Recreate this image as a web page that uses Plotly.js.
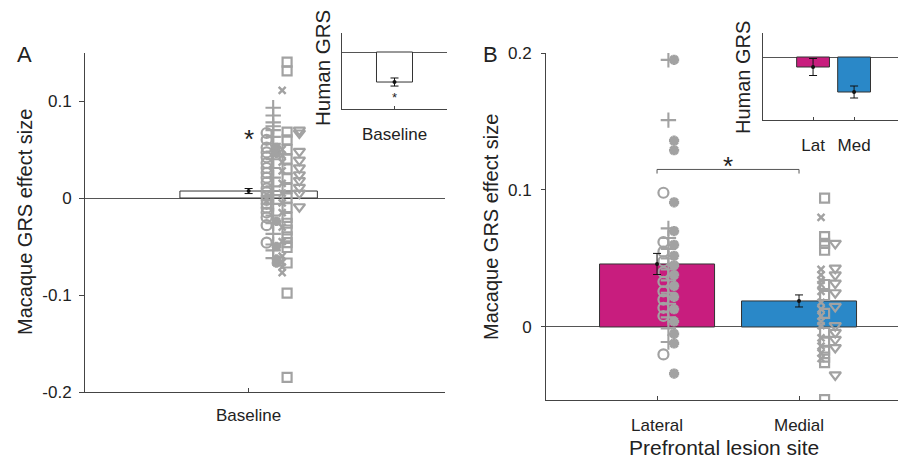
<!DOCTYPE html>
<html>
<head>
<meta charset="utf-8">
<script src="https://cdn.plot.ly/plotly-3.0.1.min.js"></script>
<style>html,body{margin:0;padding:0;background:#fff;}#chart{width:898px;height:460px;}</style>
</head>
<body>
<div id="chart"></div>
<script>
// ---------- Panel A: macaque baseline ----------
const baselineCategory = ['Baseline'];
const baselineMean = [0.0072];
const baselineSem = [0.0026];
const aCircles   = [0.067, 0.060, 0.052, 0.047, 0.042, 0.036, 0.031, 0.026, 0.021, 0.016, 0.010, 0.006, 0.002, -0.002, -0.006, -0.010, -0.015, -0.020, -0.028, -0.046];
const aPlus      = [0.093, 0.085, 0.078, 0.074, 0.070, 0.063, 0.056, 0.048, 0.040, 0.031, 0.021, 0.012, 0.003, -0.006, -0.018, -0.026, -0.037, -0.048, -0.054, -0.062];
const aStars     = [0.052, 0.046, -0.024, -0.050, -0.063, -0.067];
const aCross     = [0.111, 0.050, 0.044, 0.037, 0.028, 0.015, 0.005, -0.005, -0.015, -0.030, -0.045, -0.060, -0.066, -0.071, -0.077];
const aSquares   = [0.140, 0.131, 0.068, 0.060, 0.050, 0.040, 0.030, 0.020, 0.010, 0.000, -0.010, -0.020, -0.026, -0.033, -0.040, -0.046, -0.051, -0.067, -0.098, -0.185];
const aTriangles = [0.070, 0.067, 0.048, 0.039, 0.031, 0.024, 0.018, 0.011, 0.005, -0.009];

// ---------- Panel B: macaque lesion site ----------
const lesionSites = ['Lateral', 'Medial'];
const lesionMeans = [0.046, 0.019];
const lesionSem = [0.0077, 0.0044];
const bLatCircles = [0.098, 0.062, 0.055, 0.048, 0.040, 0.033, 0.026, 0.020, 0.014, 0.008, -0.020];
const bLatPlus    = [0.195, 0.151, 0.072, 0.065, 0.057, 0.050, 0.042, 0.034, 0.025, 0.017, 0.007, -0.001, -0.011];
const bLatStars   = [0.195, 0.136, 0.129, 0.091, 0.070, 0.060, 0.052, 0.045, 0.038, 0.030, 0.022, 0.013, 0.004, -0.005, -0.012, -0.034];
const bMedSquares   = [0.094, 0.066, 0.061, 0.056, 0.031, 0.023, 0.010, -0.004, -0.011, -0.017, -0.022, -0.026, -0.053];
const bMedCross     = [0.080, 0.042, 0.038, 0.034, 0.031, 0.026, 0.018, 0.013, 0.008, 0.004, 0.001, -0.008, -0.014, -0.019, -0.023];
const bMedTriangles = [0.061, 0.043, 0.038, 0.032, 0.025, 0.015, 0.001, -0.004, -0.009, -0.015, -0.035];
const significanceLevel = 0.115;

// ---------- Insets: human GRS (arbitrary units) ----------
const humanBaselineMean = [-0.395];
const humanBaselineSem = [0.053];
const humanLesionLabels = ['Lat', 'Med'];
const humanLesionMeans = [-0.100, -0.350];
const humanLesionSem = [0.085, 0.060];

// ---------- styles ----------
const FONT = 'Liberation Sans, Arial, Helvetica, sans-serif';
const TXT = '#222';
const GRAY = '#a2a2a2';
const AX = '#444';
const LAT_COL = '#c81d7e';
const MED_COL = '#2a88c8';
const W = 898, H = 460;
const px = v => v / W, py = v => 1 - v / H;

function pts(vals, xc, off, symbol, size, lw, xa, ya) {
  return {
    type: 'scatter', mode: 'markers', xaxis: xa, yaxis: ya, hoverinfo: 'skip',
    x: vals.map(() => xc + off), y: vals,
    marker: {symbol: symbol, size: size, color: GRAY, line: {color: GRAY, width: lw}}
  };
}
function errTrace(xs, means, sems, xa, ya) {
  return {
    type: 'scatter', mode: 'markers', xaxis: xa, yaxis: ya, hoverinfo: 'skip',
    x: xs, y: means, marker: {color: '#111', size: 4},
    error_y: {type: 'data', array: sems, visible: true, color: '#111', thickness: 1, width: 4}
  };
}
function label(text, x, y, size, angle) {
  return {text: text, xref: 'paper', yref: 'paper', x: px(x), y: py(y), xanchor: 'center', yanchor: 'middle',
    textangle: angle || 0, showarrow: false, font: {family: FONT, size: size, color: TXT}};
}
function star(xa, ya, x, y, size, shift) {
  return {text: '*', xref: xa, yref: ya, x: x, y: y, xanchor: 'center', yanchor: 'middle', yshift: shift,
    showarrow: false, font: {family: FONT, size: size, color: TXT}};
}

const traces = [];
// Panel A bar
traces.push({type: 'bar', x: [1], y: baselineMean, width: 0.84, xaxis: 'x', yaxis: 'y',
  marker: {color: '#fff', line: {color: '#333', width: 1}}, hoverinfo: 'skip'});
traces.push(pts(aCircles, 1, 0.11, 'circle-open', 10, 2.2, 'x', 'y'));
traces.push(pts(aPlus, 1, 0.15, 'cross-thin-open', 11, 2.1, 'x', 'y'));
traces.push(pts(aStars, 1, 0.17, 'asterisk-open', 8, 3, 'x', 'y'));
traces.push(pts(aCross, 1, 0.205, 'x-thin-open', 7, 2.4, 'x', 'y'));
traces.push(pts(aSquares, 1, 0.235, 'square-open', 9, 2.2, 'x', 'y'));
traces.push(pts(aTriangles, 1, 0.31, 'triangle-down-open', 10, 2.2, 'x', 'y'));
traces.push(errTrace([1], baselineMean, baselineSem, 'x', 'y'));

// Panel B bars
traces.push({type: 'bar', x: [1, 2], y: lesionMeans, width: 0.81, xaxis: 'x2', yaxis: 'y2',
  marker: {color: [LAT_COL, MED_COL], line: {color: '#333', width: 1}}, hoverinfo: 'skip'});
traces.push(pts(bLatCircles, 1, 0.045, 'circle-open', 10, 2.2, 'x2', 'y2'));
traces.push(pts(bLatPlus, 1, 0.08, 'cross-thin-open', 11, 2.1, 'x2', 'y2'));
traces.push(pts(bLatStars, 1, 0.12, 'asterisk-open', 8.5, 3.2, 'x2', 'y2'));
traces.push(pts(bMedCross, 2, 0.155, 'x-thin-open', 7, 2.4, 'x2', 'y2'));
traces.push(pts(bMedSquares, 2, 0.18, 'square-open', 9, 2.2, 'x2', 'y2'));
traces.push(pts(bMedTriangles, 2, 0.255, 'triangle-down-open', 10, 2.2, 'x2', 'y2'));
traces.push(errTrace([1, 2], lesionMeans, lesionSem, 'x2', 'y2'));

// Inset A
traces.push({type: 'bar', x: [1], y: humanBaselineMean, width: 0.343, xaxis: 'x3', yaxis: 'y3',
  marker: {color: '#fff', line: {color: '#333', width: 1}}, hoverinfo: 'skip'});
traces.push(errTrace([1], humanBaselineMean, humanBaselineSem, 'x3', 'y3'));
// Inset B
traces.push({type: 'bar', x: [1, 2], y: humanLesionMeans, width: 0.8, xaxis: 'x4', yaxis: 'y4',
  marker: {color: [LAT_COL, MED_COL], line: {color: '#333', width: 1}}, hoverinfo: 'skip'});
traces.push(errTrace([1, 2], humanLesionMeans, humanLesionSem, 'x4', 'y4'));

const tf = {family: FONT, size: 17, color: TXT};
const baseX = {showgrid: false, zeroline: false, showline: true, linecolor: AX, linewidth: 1,
  ticks: 'inside', ticklen: 4, tickcolor: AX, tickfont: tf, fixedrange: true};
const baseY = {showgrid: false, zeroline: true, zerolinecolor: '#555', zerolinewidth: 1,
  showline: true, linecolor: AX, linewidth: 1, ticks: 'outside', ticklen: 5, tickcolor: AX,
  tickfont: tf, fixedrange: true};

const layout = {
  width: W, height: H, margin: {l: 0, r: 0, t: 0, b: 0},
  paper_bgcolor: '#fff', plot_bgcolor: 'rgba(0,0,0,0)', showlegend: false,
  font: {family: FONT, color: TXT},
  xaxis: Object.assign({}, baseX, {domain: [px(85), px(445)], range: [0, 2.2], anchor: 'y',
    tickvals: [1], ticktext: baselineCategory, ticklabelstandoff: 8}),
  yaxis: Object.assign({}, baseY, {domain: [py(392), py(53)], range: [-0.2, 0.1495], anchor: 'x',
    tickvals: [-0.2, -0.1, 0, 0.1], ticktext: ['-0.2', '-0.1', '0', '0.1'], ticklabelstandoff: 4}),
  xaxis2: Object.assign({}, baseX, {domain: [px(546), 1], range: [0.218, 2.697], anchor: 'y2',
    tickvals: [1, 2], ticktext: lesionSites, ticklabelstandoff: 10}),
  yaxis2: Object.assign({}, baseY, {domain: [py(400), py(53)], range: [-0.0533, 0.2], anchor: 'x2',
    tickvals: [0, 0.1, 0.2], ticktext: ['0', '0.1', '0.2'], ticklen: 4, ticklabelstandoff: 6}),
  xaxis3: Object.assign({}, baseX, {domain: [px(342), px(447)], range: [0.5, 1.5], anchor: 'y3',
    tickvals: [1], ticktext: ['Baseline'], ticklen: 3, ticklabelstandoff: 10}),
  yaxis3: Object.assign({}, baseY, {domain: [py(109), py(33)], range: [-0.75, 0.25], anchor: 'x3',
    ticks: '', showticklabels: false}),
  xaxis4: Object.assign({}, baseX, {domain: [px(763), 1], range: [-0.22, 3.07], anchor: 'y4',
    tickvals: [1, 2], ticktext: humanLesionLabels, ticklen: 3, ticklabelstandoff: 10}),
  yaxis4: Object.assign({}, baseY, {domain: [py(120), py(33)], range: [-0.63, 0.24], anchor: 'x4',
    ticks: '', showticklabels: false}),
  shapes: [
    {type: 'line', xref: 'x2', yref: 'y2', x0: 1, x1: 2, y0: significanceLevel, y1: significanceLevel, line: {color: '#555', width: 1}},
    {type: 'line', xref: 'x2', yref: 'y2', x0: 1, x1: 1, y0: significanceLevel, y1: significanceLevel - 0.003, line: {color: '#555', width: 1}},
    {type: 'line', xref: 'x2', yref: 'y2', x0: 2, x1: 2, y0: significanceLevel, y1: significanceLevel - 0.003, line: {color: '#555', width: 1}}
  ],
  annotations: [
    label('A', 24, 55, 22),
    label('B', 491, 55, 22),
    label('Macaque GRS effect size', 25, 222, 20, -90),
    label('Macaque GRS effect size', 491, 227, 20, -90),
    label('Prefrontal lesion site', 724, 447, 21),
    label('Human GRS', 322, 68, 20.5, -90),
    label('Human GRS', 743, 78, 20, -90),
    star('x', 'y', 1, 0.067, 26, -6),
    star('x3', 'y3', 1, -0.56, 13, -3),
    star('x2', 'y2', 1.5, 0.122, 26, -6)
  ]
};

Plotly.newPlot('chart', traces, layout, {displayModeBar: false, staticPlot: true});
</script>
</body>
</html>
